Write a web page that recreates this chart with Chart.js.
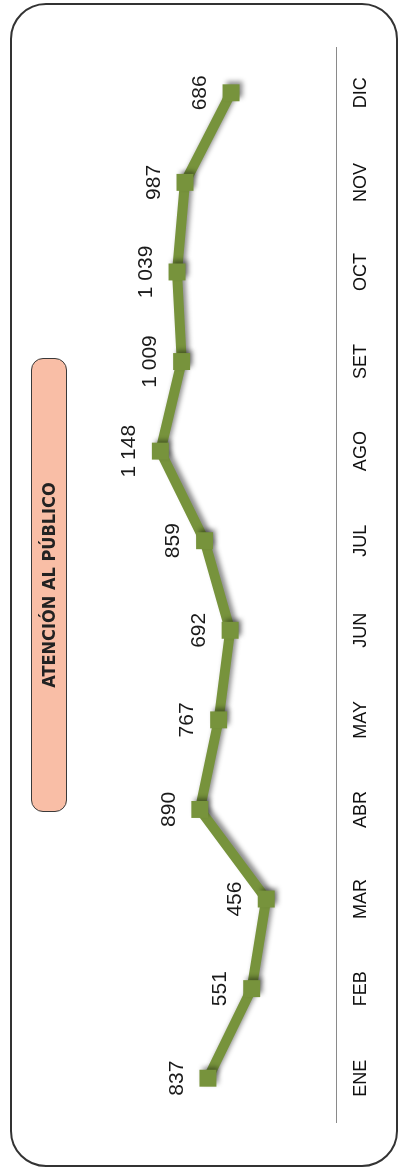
<!DOCTYPE html>
<html>
<head>
<meta charset="utf-8">
<script src="https://cdn.jsdelivr.net/npm/chart.js@4/dist/chart.umd.min.js"></script>
<style>
  html, body { margin: 0; padding: 0; background: #fff; width: 398px; height: 1169px; overflow: hidden; }
  #frame { position: absolute; left: 10px; top: 3px; width: 388px; height: 1164px; box-sizing: border-box;
           border: 2px solid #333; border-radius: 36px; }
  #rot { position: absolute; left: 0; top: 0; width: 1169px; height: 398px;
         transform-origin: 0 0; transform: translate(0px, 1169px) rotate(-90deg); }
  #rot canvas { position: absolute; left: 0; top: 0; }
  #title { position: absolute; left: 357px; top: 31px; width: 454px; height: 36px; box-sizing: border-box;
           border: 1.5px solid #3a3a3a; border-radius: 12px; background: #F9BEA6;
           font-family: "Liberation Sans Narrow", "DejaVu Sans Condensed", "Liberation Sans", sans-serif;
           font-weight: bold; font-size: 18px; line-height: 33px; text-align: center; color: #222; }
</style>
</head>
<body>
<div id="frame"></div>
<div id="rot">
  <canvas id="c" width="1169" height="398"></canvas>
  <div id="title"></div>
</div>
<script>
const categories = ['ENE','FEB','MAR','ABR','MAY','JUN','JUL','AGO','SET','OCT','NOV','DIC'];
const values = [837, 551, 456, 890, 767, 692, 859, 1148, 1009, 1039, 987, 686];
const chartTitle = 'ATENCIÓN AL PÚBLICO';
const valueMin = 0;
const valueMax = 2000;

document.getElementById('title').textContent = chartTitle;

function fmt(v) {
  return String(v).replace(/\B(?=(\d{3})+(?!\d))/g, ' ');
}

const shadowPlugin = {
  id: 'shadow',
  beforeDatasetsDraw(chart) {
    const ctx = chart.ctx;
    ctx.save();
    ctx.shadowColor = 'rgba(0,0,0,0.45)';
    ctx.shadowBlur = 5;
    ctx.shadowOffsetX = 3;
    ctx.shadowOffsetY = 3;
  },
  afterDatasetsDraw(chart) {
    chart.ctx.restore();
  }
};

const labelPlugin = {
  id: 'vlabels',
  afterDraw(chart) {
    const ctx = chart.ctx;
    const meta = chart.getDatasetMeta(0);
    ctx.save();
    ctx.font = '21px "Liberation Sans", Arial, sans-serif';
    ctx.fillStyle = '#1a1a1a';
    ctx.textAlign = 'center';
    ctx.textBaseline = 'middle';
    meta.data.forEach((pt, i) => {
      ctx.fillText(fmt(values[i]), pt.x, pt.y - 31);
    });
    ctx.restore();
  }
};

new Chart(document.getElementById('c'), {
  type: 'line',
  data: {
    labels: categories,
    datasets: [{
      data: values,
      borderColor: '#77933C',
      backgroundColor: '#77933C',
      borderWidth: 10,
      pointStyle: 'rect',
      pointRadius: 12,
      pointBorderWidth: 0,
      pointBackgroundColor: '#77933C',
      tension: 0,
      fill: false
    }]
  },
  options: {
    responsive: false,
    animation: false,
    devicePixelRatio: 1,
    layout: { padding: { left: 46, right: 48, top: 30, bottom: 20 } },
    plugins: { legend: { display: false }, tooltip: { enabled: false }, title: { display: false } },
    scales: {
      x: {
        offset: true,
        grid: { display: false, drawTicks: false },
        border: { display: true, color: '#8a8a8a', width: 1 },
        ticks: { color: '#111', padding: 14, font: { family: '"Liberation Sans", Arial, sans-serif', size: 18 }, maxRotation: 0, autoSkip: false },
        afterFit: (s) => { s.height = 42; }
      },
      y: {
        display: false,
        min: valueMin,
        max: valueMax
      }
    }
  },
  plugins: [shadowPlugin, labelPlugin]
});
</script>
</body>
</html>
